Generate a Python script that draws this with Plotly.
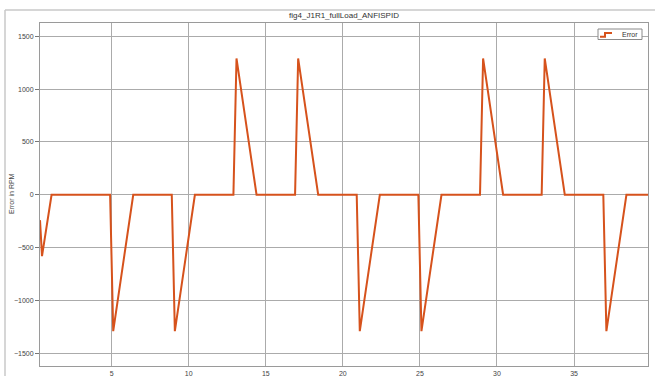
import plotly.graph_objects as go

# Scope trace breakpoints: time (s) and speed error (RPM)
time_s = [0.35, 0.48, 1.1,
          4.9, 5.1, 6.4,
          8.9, 9.1, 10.4,
          12.9, 13.1, 14.4,
          16.9, 17.1, 18.4,
          20.9, 21.1, 22.4,
          24.9, 25.1, 26.4,
          28.9, 29.1, 30.4,
          32.9, 33.1, 34.4,
          36.9, 37.1, 38.4,
          39.8]
error_rpm = [-240, -580, 0,
             0, -1290, 0,
             0, -1290, 0,
             0, 1290, 0,
             0, 1290, 0,
             0, -1290, 0,
             0, -1290, 0,
             0, 1290, 0,
             0, 1290, 0,
             0, -1290, 0,
             0]

x_ticks = [5, 10, 15, 20, 25, 30, 35]
y_ticks = [-1500, -1000, -500, 0, 500, 1000, 1500]

LINE_COLOR = "#D6521C"
FONT = "Liberation Sans, Arial, sans-serif"

W, H = 655, 376
L, R, T, B = 40, 7, 23, 10
pw, ph = W - L - R, H - T - B


def px_x(px):
    return (px - L) / pw


def px_y(py):
    return 1 - (py - T) / ph


fig = go.Figure()
fig.add_trace(go.Scatter(
    x=time_s, y=error_rpm, mode="lines", name="Error",
    line=dict(color=LINE_COLOR, width=2), showlegend=False,
))

axis_common = dict(
    showgrid=True, gridcolor="#ababab", gridwidth=1,
    showline=True, linecolor="#9a9a9a", linewidth=1, mirror=True,
    zeroline=False,
    tickfont=dict(family=FONT, size=7, color="#444"),
)

fig.update_layout(
    width=W, height=H,
    margin=dict(l=L, r=R, t=T, b=B, autoexpand=False),
    paper_bgcolor="white", plot_bgcolor="white",
    title=dict(
        text="fig4_J1R1_fullLoad_ANFISPID",
        x=px_x(344), xref="paper", xanchor="center",
        y=1 - 15 / H, yref="container", yanchor="middle",
        font=dict(family=FONT, size=8, color="#333"),
    ),
    xaxis=dict(
        range=[0.35, 39.8], tickvals=x_ticks, ticks="", ticklabelstandoff=1,
        **axis_common,
    ),
    yaxis=dict(
        range=[-1620, 1625], tickvals=y_ticks, ticks="outside", ticklen=4,
        tickcolor="#777",
        **axis_common,
    ),
    showlegend=False,
)

# Y axis label
fig.add_annotation(text="Error in RPM", xref="paper", yref="paper",
                   x=px_x(12), y=px_y(194), xanchor="center", yanchor="middle",
                   textangle=-90, showarrow=False,
                   font=dict(family=FONT, size=7, color="#444"))

# Window frame around the scope figure
frame = dict(type="line", xref="paper", yref="paper",
             line=dict(color="#c8c8c8", width=1.5))
fig.add_shape(x0=px_x(5), x1=px_x(5), y0=px_y(376), y1=px_y(10), **frame)
fig.add_shape(x0=px_x(5), x1=px_x(655), y0=px_y(10), y1=px_y(10), **frame)

# Compact scope-style legend: box, step icon, label
fig.add_shape(type="rect", xref="paper", yref="paper",
              x0=px_x(598), x1=px_x(642), y0=px_y(39.5), y1=px_y(29),
              fillcolor="white", line=dict(color="#8a8a8a", width=1))
step_path = (f"M {px_x(600)},{px_y(36.8)} L {px_x(605)},{px_y(36.8)} "
             f"L {px_x(605)},{px_y(33)} L {px_x(612)},{px_y(33)}")
fig.add_shape(type="path", xref="paper", yref="paper", path=step_path,
              line=dict(color=LINE_COLOR, width=2))
fig.add_annotation(text="Error", xref="paper", yref="paper",
                   x=px_x(640), y=px_y(34.5), xanchor="right", yanchor="middle",
                   showarrow=False, font=dict(family=FONT, size=7, color="#333"))

fig.write_html("out.html")
